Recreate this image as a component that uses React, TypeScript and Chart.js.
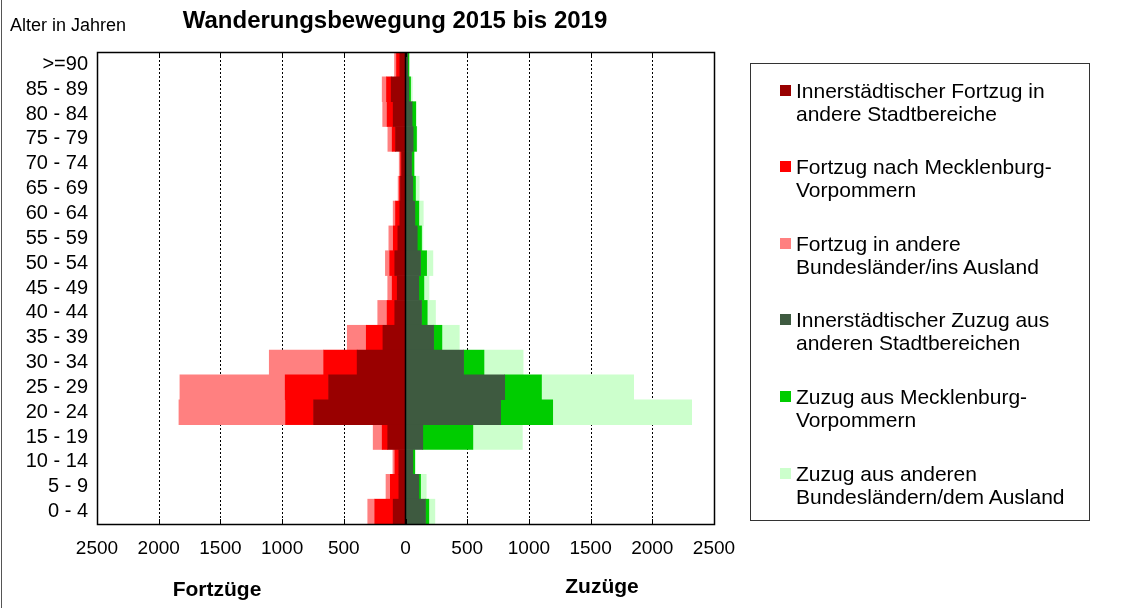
import React, { useEffect, useRef } from "react";
import { Chart, registerables } from "chart.js";

Chart.register(...registerables);

// Age groups, top to bottom
const ageGroups = [
  ">=90", "85 - 89", "80 - 84", "75 - 79", "70 - 74", "65 - 69", "60 - 64",
  "55 - 59", "50 - 54", "45 - 49", "40 - 44", "35 - 39", "30 - 34", "25 - 29",
  "20 - 24", "15 - 19", "10 - 14", "5 - 9", "0 - 4",
];

// Fortzüge (shown to the left, as negative values)
const fortzugInnerstaedtisch = [46, 116, 100, 81, 32, 41, 46, 62, 87, 67, 87, 183, 392, 623, 745, 144, 54, 54, 100];
const fortzugMV = [27, 38, 49, 27, 8, 8, 35, 37, 41, 41, 62, 135, 271, 352, 227, 45, 32, 69, 149];
const fortzugAndere = [16, 35, 36, 35, 11, 11, 19, 36, 35, 36, 76, 154, 441, 853, 864, 73, 16, 35, 57];

// Zuzüge (shown to the right)
const zuzugInnerstaedtisch = [19, 27, 54, 62, 49, 59, 76, 95, 122, 108, 130, 228, 471, 804, 771, 140, 59, 108, 162];
const zuzugMV = [8, 14, 29, 27, 19, 22, 32, 35, 49, 41, 46, 67, 165, 298, 422, 406, 16, 14, 27];
const zuzugAndere = [6, 14, 3, 4, 6, 30, 36, 11, 51, 41, 67, 141, 317, 747, 1126, 401, 3, 46, 49];

const seriesNames = [
  ["Innerstädtischer Fortzug in", "andere Stadtbereiche"],
  ["Fortzug nach Mecklenburg-", "Vorpommern"],
  ["Fortzug in andere", "Bundesländer/ins Ausland"],
  ["Innerstädtischer Zuzug aus", "anderen Stadtbereichen"],
  ["Zuzug aus Mecklenburg-", "Vorpommern"],
  ["Zuzug aus anderen", "Bundesländern/dem Ausland"],
];
const seriesColors = ["#990000", "#FF0000", "#FF8080", "#3E5A40", "#00CC00", "#CCFFCC"];

const axisMin = -2500;
const axisMax = 2500;
const axisStep = 500;

const FONT = "'Liberation Sans', Arial, sans-serif";

const framePlugin = {
  id: "frameAndGrid",
  beforeDatasetsDraw(chart: any) {
    const { ctx, chartArea: a, scales } = chart;
    const x = scales.x;
    ctx.save();
    ctx.strokeStyle = "#000";
    ctx.lineWidth = 1;
    ctx.setLineDash([2, 2]);
    for (const t of x.ticks) {
      const v = t.value;
      if (v === 0 || v === axisMin || v === axisMax) continue;
      const px = Math.round(x.getPixelForValue(v)) + 0.5;
      ctx.beginPath();
      ctx.moveTo(px, a.top);
      ctx.lineTo(px, a.bottom);
      ctx.stroke();
    }
    ctx.restore();
  },
  afterDatasetsDraw(chart: any) {
    const { ctx, chartArea: a, scales } = chart;
    const x = scales.x;
    ctx.save();
    ctx.strokeStyle = "#000";
    ctx.setLineDash([]);
    // centre line
    const cx = Math.round(x.getPixelForValue(0)) - 0.5;
    ctx.lineWidth = 1.5;
    ctx.beginPath();
    ctx.moveTo(cx, a.top);
    ctx.lineTo(cx, a.bottom);
    ctx.stroke();
    // frame
    ctx.lineWidth = 1.5;
    ctx.strokeRect(Math.round(a.left) + 0.5, Math.round(a.top) + 0.5, Math.round(a.right - a.left), Math.round(a.bottom - a.top));
    // inner tick marks
    ctx.lineWidth = 1;
    for (const t of x.ticks) {
      const px = Math.round(x.getPixelForValue(t.value)) + 0.5;
      ctx.beginPath();
      ctx.moveTo(px, a.top);
      ctx.lineTo(px, a.top + 5);
      ctx.moveTo(px, a.bottom);
      ctx.lineTo(px, a.bottom - 5);
      ctx.stroke();
    }
    ctx.restore();
  },
};

export default function App() {
  const canvasRef = useRef<HTMLCanvasElement>(null);

  useEffect(() => {
    const neg = (arr: number[]) => arr.map((v) => -v);
    const datasets = [
      { label: seriesNames[0].join(" "), data: neg(fortzugInnerstaedtisch), backgroundColor: seriesColors[0] },
      { label: seriesNames[1].join(" "), data: neg(fortzugMV), backgroundColor: seriesColors[1] },
      { label: seriesNames[2].join(" "), data: neg(fortzugAndere), backgroundColor: seriesColors[2] },
      { label: seriesNames[3].join(" "), data: zuzugInnerstaedtisch, backgroundColor: seriesColors[3] },
      { label: seriesNames[4].join(" "), data: zuzugMV, backgroundColor: seriesColors[4] },
      { label: seriesNames[5].join(" "), data: zuzugAndere, backgroundColor: seriesColors[5] },
    ].map((d) => ({ ...d, borderWidth: 0, categoryPercentage: 1, barPercentage: 1 }));

    const chart = new Chart(canvasRef.current as HTMLCanvasElement, {
      type: "bar",
      data: { labels: ageGroups, datasets },
      options: {
        indexAxis: "y",
        responsive: false,
        maintainAspectRatio: false,
        animation: false,
        layout: { padding: { top: 52, right: 409, bottom: 44, left: 0 } },
        plugins: {
          legend: { display: false },
          title: { display: false },
          tooltip: { enabled: false },
        },
        scales: {
          x: {
            type: "linear",
            stacked: true,
            min: axisMin,
            max: axisMax,
            ticks: {
              stepSize: axisStep,
              autoSkip: false,
              maxRotation: 0,
              padding: 13,
              color: "#000",
              font: { family: FONT, size: 19 },
              callback: (v: any) => String(Math.abs(Number(v))),
            },
            grid: { display: false, drawTicks: false },
            border: { display: false },
            afterFit: (s: any) => {
              s.height = 40;
            },
          },
          y: {
            stacked: true,
            ticks: {
              autoSkip: false,
              padding: 9,
              color: "#000",
              font: { family: FONT, size: 20 },
            },
            grid: { display: false, drawTicks: false },
            border: { display: false },
            afterFit: (s: any) => {
              s.width = 97;
            },
          },
        },
      },
      plugins: [framePlugin],
    } as any);
    return () => chart.destroy();
  }, []);

  const legendTop = 78.5;
  const legendStep = 76.6;

  return (
    <div style={{ position: "absolute", left: 0, top: 0, width: 1123, height: 608, background: "#fff", fontFamily: FONT, color: "#000", overflow: "hidden" }}>
      <canvas ref={canvasRef} width={1123} height={608} style={{ position: "absolute", left: 0, top: 0, display: "block" }} />
      <div style={{ position: "absolute", left: 1, top: 0, width: 1, height: 608, background: "#555" }} />
      <div style={{ position: "absolute", left: 10, top: 14, fontSize: 18, lineHeight: "22px", whiteSpace: "nowrap" }}>Alter in Jahren</div>
      <div style={{ position: "absolute", left: 150, width: 490, textAlign: "center", top: 6, fontSize: 24, fontWeight: "bold", lineHeight: "28px", whiteSpace: "nowrap" }}>
        Wanderungsbewegung 2015 bis 2019
      </div>
      <div style={{ position: "absolute", left: 117, width: 200, textAlign: "center", top: 576, fontSize: 21, fontWeight: "bold", lineHeight: "26px" }}>Fortzüge</div>
      <div style={{ position: "absolute", left: 502, width: 200, textAlign: "center", top: 573, fontSize: 21, fontWeight: "bold", lineHeight: "26px" }}>Zuzüge</div>
      <div style={{ position: "absolute", left: 750, top: 63, width: 340, height: 458, border: "1px solid #333", boxSizing: "border-box" }} />
      {seriesNames.map((lines, i) => (
        <div key={i} style={{ position: "absolute", left: 780, top: legendTop + legendStep * i, whiteSpace: "nowrap" }}>
          <div style={{ position: "absolute", left: 0, top: 6, width: 11, height: 11, background: seriesColors[i] }} />
          <div style={{ position: "absolute", left: 16, top: 0, fontSize: 21, lineHeight: "23px" }}>
            {lines[0]}
            <br />
            {lines[1]}
          </div>
        </div>
      ))}
    </div>
  );
}
